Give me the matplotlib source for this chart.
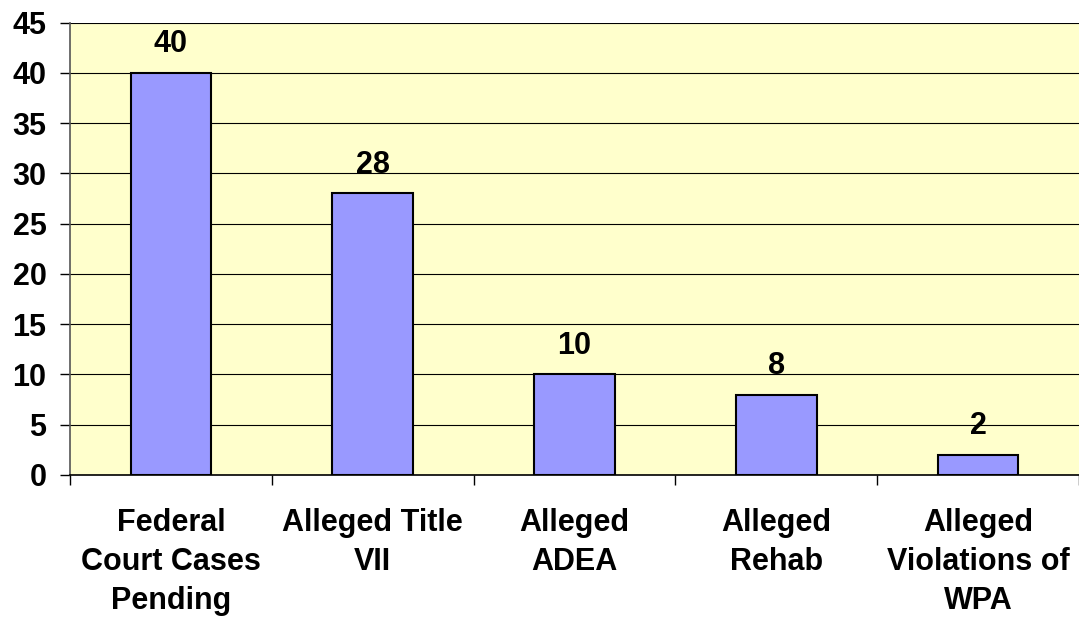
import matplotlib
matplotlib.use("Agg")
import matplotlib.pyplot as plt
import numpy as np

plt.rcParams["font.family"] = ["Liberation Sans", "DejaVu Sans"]
plt.rcParams["font.weight"] = "bold"

categories = [
    "Federal\nCourt Cases\nPending",
    "Alleged Title\nVII",
    "Alleged\nADEA",
    "Alleged\nRehab",
    "Alleged\nViolations of\nWPA",
]
values = [40, 28, 10, 8, 2]
y_ticks = [0, 5, 10, 15, 20, 25, 30, 35, 40, 45]

BAR_COLOR = "#9999FF"
BG_COLOR = "#FFFFCC"
FS = 22

fig = plt.figure(figsize=(10.79, 6.19), dpi=100)
ax = fig.add_axes([70 / 1079, 1 - 475 / 619, 1 - 70 / 1079, (475 - 22.5) / 619])
ax.set_facecolor(BG_COLOR)

x = np.arange(len(categories))
bars = ax.bar(x, values, width=0.4, color=BAR_COLOR, edgecolor="black",
              linewidth=1.5, zorder=3)

for rect, v in zip(bars, values):
    ax.annotate(str(v), (rect.get_x() + rect.get_width() / 2, rect.get_height()),
                xytext=(0, 10), textcoords="offset points",
                ha="center", va="bottom", fontsize=FS, fontweight="bold")

ax.set_xlim(-0.5, len(categories) - 0.5)
ax.set_ylim(0, 45)
ax.set_yticks(y_ticks)
ax.set_yticklabels([str(t) for t in y_ticks], fontsize=FS, fontweight="bold")
ax.yaxis.grid(True, color="black", linewidth=0.8, zorder=0)
ax.set_axisbelow(True)

# category boundaries get the tick marks, labels sit centred under each bar
ax.set_xticks(np.arange(len(categories) + 1) - 0.5)
ax.set_xticklabels([])
ax.set_xticks(x, minor=True)
ax.set_xticklabels(categories, minor=True, fontsize=FS, fontweight="bold",
                   linespacing=1.38)
ax.tick_params(axis="x", which="major", direction="out", length=7, width=1)
ax.tick_params(axis="x", which="minor", length=0, pad=24)
ax.tick_params(axis="y", direction="out", length=7, width=1, pad=10)

for side in ["top", "right"]:
    ax.spines[side].set_visible(False)
ax.spines["left"].set_color("#555555")
ax.spines["left"].set_linewidth(1.2)
ax.spines["bottom"].set_linewidth(1.2)

fig.savefig("out.png", dpi=100, facecolor="white")
